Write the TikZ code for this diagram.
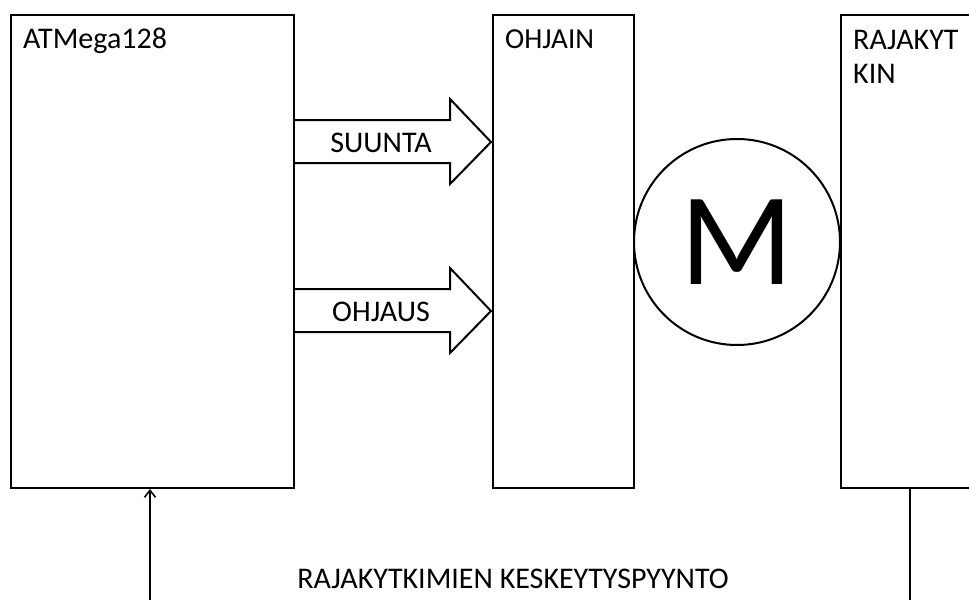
\documentclass[tikz,border=0pt]{standalone}
\usepackage{fontspec}
\setmainfont{Carlito}
\usetikzlibrary{arrows.meta}
\begin{document}
\begin{tikzpicture}[x=1pt,y=-1pt,
  blk/.style={draw, line width=2pt, rectangle, inner sep=0pt, anchor=north west},
  lbl/.style={anchor=base west, inner sep=0pt, font=\fontsize{30}{34}\selectfont},
  barrow/.style={draw, line width=2pt, fill=white, line join=miter},
  wire/.style={line width=1.6pt}]
\useasboundingbox (0,0) rectangle (969,600);
\clip (0,0) rectangle (969,600);
% block arrows (drawn first so the box edges stay visible)
\draw[barrow] (293,120) -- (450,120) -- (450,99) -- (491,142) -- (450,184) -- (450,163) -- (293,163);
\draw[barrow] (293,289) -- (450,289) -- (450,268) -- (491,311) -- (450,353) -- (450,332) -- (293,332);
\node[blk, minimum width=283pt, minimum height=473pt] (atm) at (10,14) {};
\node[blk, minimum width=141pt, minimum height=473pt] (ohj) at (492,14) {};
\node[blk, minimum width=200pt, minimum height=473pt] (raj) at (840,14) {};
\node[lbl] (atmt) at (23,48) {ATMega128};
\node[lbl, font=\fontsize{29}{34}\selectfont] (ohjt) at (505,48) {OHJAIN};
\node[lbl, align=left] (rajt) at (853,83) {RAJAKYT\\KIN};
\node[circle, draw, line width=2pt, minimum size=206pt, inner sep=0pt] (m) at (737,242) {\fontsize{132}{132}\selectfont M};
\node[lbl, anchor=base] (suunta) at (381,152) {SUUNTA};
\node[lbl, anchor=base] (ohjaus) at (381,321) {OHJAUS};
% bottom connections
\coordinate (b1) at (150,600);
\coordinate (b2) at (910,600);
\draw[wire, -{Straight Barb[length=7pt,width=11pt]}] (b1) -- (b1 |- atm.south);
\draw[wire] (b2 |- raj.south) -- (b2);
\node[lbl, anchor=base] (int) at (513,588) {RAJAKYTKIMIEN KESKEYTYSPYYNTO};
\end{tikzpicture}
\end{document}
